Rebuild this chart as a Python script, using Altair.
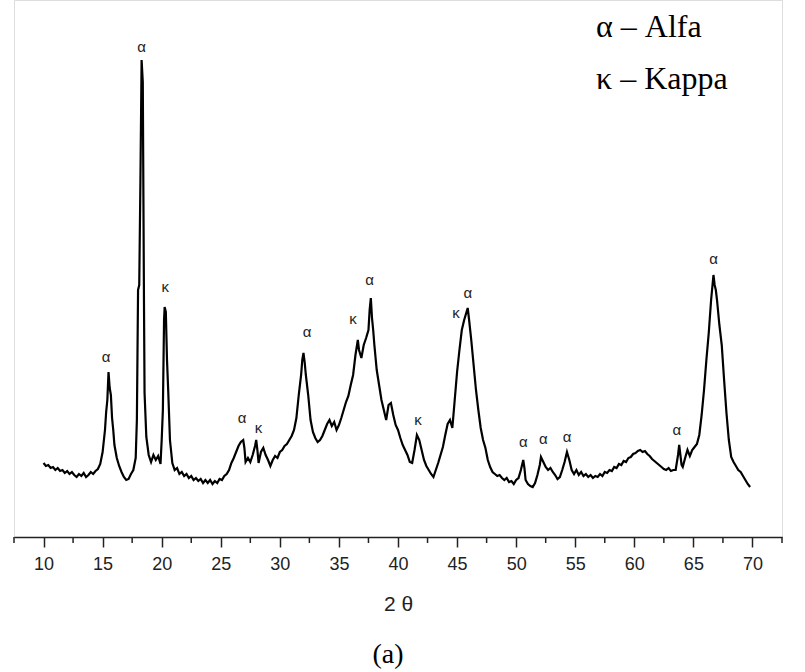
import altair as alt
import pandas as pd

two_theta = [10.0, 10.2, 10.4, 10.6, 10.8, 11.0, 11.2, 11.4, 11.6, 11.8, 12.0, 12.2, 12.4, 12.6, 12.8,
             13.0, 13.2, 13.4, 13.6, 13.8, 14.0, 14.2, 14.4, 14.6, 14.8, 15.0, 15.2, 15.3, 15.4, 15.5,
             15.6, 15.7, 15.8, 15.9, 16.0, 16.2, 16.4, 16.6, 16.8, 17.0, 17.2, 17.4, 17.6, 17.8, 17.9,
             18.0, 18.1, 18.2, 18.3, 18.4, 18.5, 18.55, 18.7, 18.9, 19.1, 19.3, 19.5, 19.7, 19.9, 20.0,
             20.1, 20.2, 20.25, 20.35, 20.45, 20.55, 20.7, 20.9, 21.1, 21.3, 21.5, 21.7, 21.9, 22.1, 22.3,
             22.5, 22.7, 22.9, 23.1, 23.3, 23.5, 23.7, 23.9, 24.1, 24.3, 24.5, 24.7, 24.9, 25.1, 25.3,
             25.5, 25.7, 25.9, 26.1, 26.3, 26.5, 26.7, 26.9, 27.0, 27.1, 27.3, 27.5, 27.7, 27.9, 28.0,
             28.1, 28.2, 28.4, 28.6, 28.8, 29.0, 29.2, 29.4, 29.6, 29.8, 30.0, 30.2, 30.4, 30.6, 30.8,
             31.0, 31.2, 31.4, 31.6, 31.8, 31.9, 32.0, 32.1, 32.2, 32.4, 32.6, 32.8, 33.0, 33.2, 33.4,
             33.6, 33.8, 34.0, 34.2, 34.4, 34.6, 34.8, 35.0, 35.2, 35.4, 35.6, 35.8, 36.0, 36.2, 36.4,
             36.6, 36.7, 36.9, 37.1, 37.3, 37.5, 37.6, 37.7, 37.8, 37.9, 38.0, 38.2, 38.4, 38.6, 38.8,
             39.0, 39.2, 39.4, 39.6, 39.8, 40.0, 40.2, 40.4, 40.6, 40.8, 41.0, 41.2, 41.4, 41.6, 41.8,
             42.0, 42.2, 42.4, 42.6, 42.8, 43.0, 43.2, 43.4, 43.6, 43.8, 44.0, 44.2, 44.4, 44.6, 44.8,
             45.0, 45.2, 45.4, 45.6, 45.8, 45.9, 46.0, 46.2, 46.4, 46.6, 46.8, 47.0, 47.2, 47.4, 47.6,
             47.8, 48.0, 48.2, 48.4, 48.6, 48.8, 49.0, 49.2, 49.4, 49.6, 49.8, 50.0, 50.2, 50.4, 50.6,
             50.7, 50.8, 51.0, 51.2, 51.4, 51.6, 51.8, 52.0, 52.1, 52.3, 52.5, 52.7, 52.9, 53.1, 53.3,
             53.5, 53.7, 53.9, 54.1, 54.3, 54.5, 54.7, 54.9, 55.1, 55.3, 55.5, 55.7, 55.9, 56.1, 56.3,
             56.5, 56.7, 56.9, 57.1, 57.3, 57.5, 57.7, 57.9, 58.1, 58.3, 58.5, 58.7, 58.9, 59.1, 59.3,
             59.5, 59.7, 59.9, 60.1, 60.3, 60.5, 60.7, 60.9, 61.1, 61.3, 61.5, 61.7, 61.9, 62.1, 62.3,
             62.5, 62.7, 62.9, 63.1, 63.3, 63.5, 63.7, 63.8, 63.9, 64.0, 64.1, 64.3, 64.5, 64.7, 64.9,
             65.1, 65.3, 65.5, 65.7, 65.9, 66.1, 66.3, 66.5, 66.7, 66.8, 66.9, 67.0, 67.2, 67.4, 67.6,
             67.8, 68.0, 68.2, 68.4, 68.6, 68.8, 69.0, 69.2, 69.4, 69.6, 69.8]

intensity = [74, 71, 72, 69, 70, 67, 69, 66, 67, 64, 66, 63, 65, 62, 60,
             63, 61, 64, 60, 62, 65, 63, 66, 68, 73, 85, 107, 125, 137, 165,
             149, 142, 119, 107, 92, 79, 71, 65, 60, 57, 58, 63, 67, 79, 117,
             247, 252, 357, 477, 455, 237, 144, 100, 82, 75, 82, 77, 81, 73, 97,
             127, 217, 230, 225, 177, 147, 97, 74, 67, 69, 63, 65, 61, 63, 59,
             61, 57, 59, 56, 58, 54, 57, 54, 57, 53, 56, 54, 58, 57, 61,
             63, 67, 74, 79, 85, 91, 95, 97, 89, 75, 79, 75, 82, 91, 97,
             87, 74, 85, 89, 82, 77, 71, 77, 81, 79, 85, 87, 91, 93, 97,
             101, 107, 119, 142, 162, 177, 184, 175, 162, 142, 117, 105, 99, 95, 97,
             101, 107, 113, 117, 111, 115, 107, 112, 119, 127, 135, 141, 152, 162, 182,
             197, 187, 179, 192, 199, 207, 227, 239, 219, 207, 192, 167, 152, 137, 127,
             117, 132, 134, 122, 112, 107, 99, 92, 87, 82, 75, 74, 87, 102, 97,
             87, 77, 71, 67, 63, 60, 67, 74, 82, 90, 102, 113, 117, 109, 137,
             165, 187, 207, 217, 225, 229, 219, 197, 172, 147, 127, 109, 97, 89, 77,
             70, 65, 63, 61, 62, 59, 57, 59, 55, 56, 53, 57, 59, 67, 77,
             69, 57, 53, 51, 50, 54, 62, 72, 80, 75, 70, 67, 69, 65, 62,
             58, 60, 67, 75, 85, 77, 67, 63, 67, 62, 65, 61, 63, 60, 62,
             59, 61, 60, 63, 61, 65, 64, 67, 66, 70, 69, 73, 72, 76, 75,
             79, 80, 83, 84, 86, 87, 85, 86, 83, 81, 78, 76, 74, 72, 70,
             68, 67, 69, 66, 67, 67, 82, 92, 82, 72, 70, 79, 87, 81, 87,
             90, 93, 102, 122, 147, 177, 204, 237, 262, 252, 247, 237, 212, 192, 157,
             124, 97, 80, 75, 71, 67, 65, 61, 57, 53, 50]

# Phase labels above the peaks
peak_pos = [15.3, 18.3, 20.3, 26.8, 28.2, 32.3, 36.2, 37.6, 41.7, 44.9, 45.9,
            50.6, 52.3, 54.3, 63.6, 66.7]
peak_height = [180, 490, 250, 119, 109, 205, 218, 257, 117, 224, 244,
               95, 98, 100, 107, 278]
peak_phase = ["α", "α", "κ", "α", "κ", "α", "κ", "α", "κ", "κ", "α",
              "α", "α", "α", "α", "α"]

legend_text = "α – Alfa\nκ – Kappa"
panel_label = "(a)"
x_title = "2 θ"
major_ticks = [10, 15, 20, 25, 30, 35, 40, 45, 50, 55, 60, 65, 70]
minor_ticks = [7.5, 12.5, 17.5, 22.5, 27.5, 32.5, 37.5, 42.5, 47.5, 52.5, 57.5, 62.5, 67.5, 72.5]

pattern = pd.DataFrame({"theta": two_theta, "I": intensity})
peaks = pd.DataFrame({"theta": peak_pos, "I": peak_height, "phase": peak_phase})
minor = pd.DataFrame({"theta": minor_ticks})

W, H = 768, 537
xscale = alt.Scale(domain=[7.5, 72.5], nice=False, zero=False)
yscale = alt.Scale(domain=[0, 537], nice=False, zero=True)

xaxis = alt.Axis(
    values=major_ticks,
    title=x_title,
    grid=False,
    domainColor="#222",
    domainWidth=1.5,
    tickColor="#222",
    tickWidth=1.5,
    tickSize=10,
    labelFont="Liberation Sans",
    labelFontSize=18,
    labelColor="#222",
    labelPadding=8,
    labelFlush=False,
    labelOverlap=False,
    titleFont="Liberation Sans",
    titleFontSize=21,
    titleFontWeight="normal",
    titleColor="#222",
    titlePadding=20,
)

line = alt.Chart(pattern).mark_line(color="black", strokeWidth=2.2, interpolate="linear").encode(
    x=alt.X("theta:Q", scale=xscale, axis=xaxis, title=x_title),
    y=alt.Y("I:Q", scale=yscale, axis=None),
)

minor_rules = alt.Chart(minor).mark_rule(color="#222", strokeWidth=1.5).encode(
    x=alt.X("theta:Q", scale=xscale, axis=xaxis, title=x_title),
    y=alt.value(H),
    y2=alt.value(H + 6),
)

labels = alt.Chart(peaks).mark_text(
    font="Liberation Sans", fontSize=15, color="#222", baseline="middle", align="center"
).encode(
    x=alt.X("theta:Q", scale=xscale, axis=xaxis, title=x_title),
    y=alt.Y("I:Q", scale=yscale, axis=None),
    text="phase:N",
)

legend = alt.Chart(pd.DataFrame({"t": [legend_text]})).mark_text(
    font="Liberation Serif", fontSize=32, color="black", align="left", baseline="alphabetic",
    lineBreak="\n", lineHeight=52,
).encode(x=alt.value(582), y=alt.value(37), text="t:N")

panel = alt.Chart(pd.DataFrame({"t": [panel_label]})).mark_text(
    font="Liberation Serif", fontSize=28, color="black", align="center", baseline="middle",
).encode(x=alt.value(374), y=alt.value(655), text="t:N")

chart = alt.layer(line, minor_rules, labels, legend, panel).properties(
    width=W, height=H,
    padding={"left": 13, "top": 0, "right": 10, "bottom": 0},
).configure_view(stroke=None).configure(background="white").configure_axisX(
    titleFontSize=21, titleFont="Liberation Sans", titleFontWeight="normal"
)

chart.save("out.html", embed_options={"renderer": "svg", "actions": False})
